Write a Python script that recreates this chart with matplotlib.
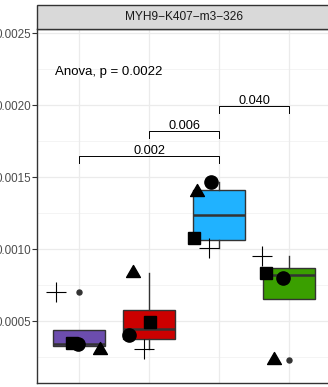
"""Boxplot of one peptide site across four groups, ggplot theme_bw look."""

import matplotlib

matplotlib.use("Agg")
import matplotlib.pyplot as plt
from matplotlib.patches import Rectangle
from matplotlib.path import Path


PANEL_TITLE = "MYH9\u2212K407\u2212m3\u2212326"
GROUPS = ["G1", "G2", "G3", "G4"]
BOX_COLORS = ["#6C4DAE", "#CC0000", "#20B2FF", "#3A9F00"]

# one value per replicate (circle, triangle, square, plus) for each group
CIRCLE = [0.000338, 0.000400, 0.001465, 0.000798]
TRIANGLE = [0.000298, 0.000834, 0.001395, 0.000228]
SQUARE = [0.000349, 0.000493, 0.001080, 0.000837]
PLUS = [0.000702, 0.000303, 0.001005, 0.000955]

# horizontal jitter seen in the picture (group units)
JIT_CIRCLE = [-0.02, -0.28, -0.11, -0.08]
JIT_TRIANGLE = [0.30, -0.23, -0.32, -0.22]
JIT_SQUARE = [-0.10, 0.01, -0.36, -0.33]
JIT_PLUS = [-0.33, -0.07, -0.14, -0.39]

ANOVA_LABEL = "Anova, p = 0.0022"
ANOVA_Y = 0.002231
BRACKET_PAIRS = [(1, 3), (2, 3), (3, 4)]
BRACKET_LABELS = ["0.002", "0.006", "0.040"]
BRACKET_Y = [0.001648, 0.001822, 0.001995]
TIP = 0.000049

YTICKS = [0.0005, 0.0010, 0.0015, 0.0020, 0.0025]
YTICK_LABELS = ["0.0005", "0.0010", "0.0015", "0.0020", "0.0025"]
YMINOR = [0.00025, 0.00075, 0.00125, 0.00175, 0.00225]

# centroid-centred triangle, like R's pch 17
TRI = Path([(0, 1), (-0.866, -0.5), (0.866, -0.5), (0, 1)],
           [Path.MOVETO, Path.LINETO, Path.LINETO, Path.CLOSEPOLY])


def main() -> None:
    plt.rcParams.update({
        "font.family": ["Liberation Sans", "DejaVu Sans"],
        "font.size": 9,
    })
    W, H = 328, 387
    fig = plt.figure(figsize=(W / 100, H / 100), dpi=100)
    fig.patch.set_facecolor("white")
    left, right, top, bottom = 37, 331, 29, 383.3
    ax = fig.add_axes([left / W, (H - bottom) / H, (right - left) / W, (bottom - top) / H])

    pos = [1, 2, 3, 4]
    data = [[CIRCLE[i], TRIANGLE[i], SQUARE[i], PLUS[i]] for i in range(4)]

    for y in YTICKS:
        ax.axhline(y, color="#EBEBEB", lw=0.9, zorder=0)
    for y in YMINOR:
        ax.axhline(y, color="#F2F2F2", lw=0.6, zorder=0)
    for x in pos:
        ax.axvline(x, color="#EBEBEB", lw=0.9, zorder=0)

    bp = ax.boxplot(
        data, positions=pos, widths=0.75, patch_artist=True, showcaps=False,
        whis=1.5,
        medianprops=dict(color="#333333", lw=1.8),
        boxprops=dict(edgecolor="#333333", lw=1.0),
        whiskerprops=dict(color="#333333", lw=1.0),
        flierprops=dict(marker="o", markersize=3.6, markerfacecolor="#333333",
                        markeredgecolor="#333333"),
        zorder=2,
    )
    for patch, c in zip(bp["boxes"], BOX_COLORS):
        patch.set_facecolor(c)

    for vals, jit, mk, ms in [
        (CIRCLE, JIT_CIRCLE, "o", 9.5),
        (TRIANGLE, JIT_TRIANGLE, TRI, 11.5),
        (SQUARE, JIT_SQUARE, "s", 9.0),
    ]:
        xs = [p + j for p, j in zip(pos, jit)]
        ax.plot(xs, vals, ls="none", marker=mk, ms=ms, color="black", zorder=3)
    xs = [p + j for p, j in zip(pos, JIT_PLUS)]
    ax.plot(xs, PLUS, ls="none", marker="+", ms=14, mew=0.8, color="black", zorder=3)

    for (a, b), lab, y in zip(BRACKET_PAIRS, BRACKET_LABELS, BRACKET_Y):
        ax.plot([a, a, b, b], [y - TIP, y, y, y - TIP], color="black", lw=0.7, zorder=4)
        ax.annotate(lab, ((a + b) / 2, y), xytext=(0, 1.5), textcoords="offset points",
                    ha="center", va="baseline", fontsize=9.2, color="black")

    ax.text(0.657, ANOVA_Y, ANOVA_LABEL, ha="left", va="center", fontsize=9.5)

    ax.set_xlim(0.4, 4.6)
    ax.set_ylim(0.0000674, 0.00253)
    ax.set_xticks([])
    ax.set_yticks(YTICKS)
    ax.set_yticklabels(YTICK_LABELS, color="#4D4D4D", fontsize=8.4)
    ax.tick_params(axis="y", length=3.3, width=0.8, color="#333333", pad=1.2)
    for s in ax.spines.values():
        s.set_color("#333333")
        s.set_linewidth(1.0)

    fig.patches.append(Rectangle(
        (left / W, (H - top) / H), (right - left) / W, (top - 5) / H,
        transform=fig.transFigure, facecolor="#D9D9D9", edgecolor="#333333",
        lw=1.0, zorder=1,
    ))
    fig.text((left + 147) / W, (H - 17) / H, PANEL_TITLE, ha="center", va="center",
             fontsize=8.6, color="#1A1A1A")

    fig.savefig("out.png", dpi=100, facecolor="white")
    plt.close(fig)


if __name__ == "__main__":
    main()
